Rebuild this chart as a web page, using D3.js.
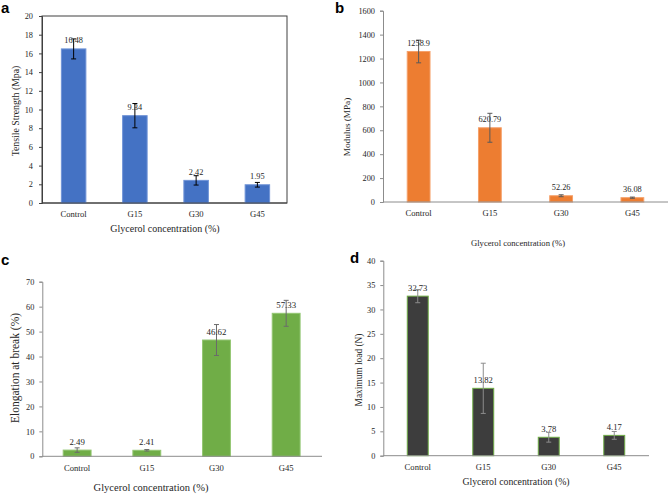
<!DOCTYPE html>
<html>
<head>
<meta charset="utf-8">
<script src="https://cdn.jsdelivr.net/npm/d3@7"></script>
<style>
  html, body { margin: 0; padding: 0; background: #fff; }
  svg { display: block; }
  text { font-family: "Liberation Serif", "Times New Roman", serif; fill: #262626; }
  .plabel { font-family: "Liberation Sans", Arial, sans-serif; font-weight: bold; fill: #000; }
</style>
</head>
<body>
<svg id="chart" width="668" height="495"></svg>
<script>
// ---- data ----
const categories = ["Control", "G15", "G30", "G45"];

const tensileValues = [16.48, 9.34, 2.42, 1.95];
const tensileErrors = [1.07, 1.3, 0.5, 0.25];
const tensileLabels = ["16.48", "9.34", "2.42", "1.95"];
const tensileTicks = [0, 2, 4, 6, 8, 10, 12, 14, 16, 18, 20];

const modulusValues = [1258.9, 620.79, 52.26, 36.08];
const modulusErrors = [95, 121, 8, 5];
const modulusLabels = ["1258.9", "620.79", "52.26", "36.08"];
const modulusTicks = [0, 200, 400, 600, 800, 1000, 1200, 1400, 1600];

const elongationValues = [2.49, 2.41, 46.62, 57.33];
const elongationErrors = [0.9, 0.3, 6.2, 5.2];
const elongationLabels = ["2.49", "2.41", "46.62", "57.33"];
const elongationTicks = [0, 10, 20, 30, 40, 50, 60, 70];

const loadValues = [32.73, 13.82, 3.78, 4.17];
const loadErrors = [1.35, 5.15, 1.0, 0.8];
const loadLabels = ["32.73", "13.82", "3.78", "4.17"];
const loadTicks = [0, 5, 10, 15, 20, 25, 30, 35, 40];

const svg = d3.select("#chart");
const SERIF = '"Liberation Serif", "Times New Roman", serif';

function panel(cfg) {
  const g = svg.append("g");
  const x = d3.scaleBand().domain(categories)
    .range([cfg.bx0, cfg.bx1]).paddingInner(cfg.pad).paddingOuter(cfg.pad / 2);
  const y = d3.scaleLinear().domain([0, cfg.ymax]).range([cfg.y1, cfg.y0]);

  if (cfg.frame) {
    g.append("rect").attr("x", cfg.ax0).attr("y", cfg.y0)
      .attr("width", cfg.ax1 - cfg.ax0).attr("height", cfg.y1 - cfg.y0)
      .attr("fill", "none").attr("stroke", cfg.axisColor).attr("stroke-width", 1);
  }

  const yAxis = d3.axisLeft(y).tickValues(cfg.ticks).tickSize(3).tickPadding(cfg.tickPad)
    .tickFormat(d3.format("d"));
  const ya = g.append("g").attr("transform", `translate(${cfg.ax0},0)`).call(yAxis)
    .attr("font-family", SERIF).attr("font-size", cfg.tickFont);
  ya.select(".domain").attr("stroke", cfg.axisColor);
  ya.selectAll(".tick line").attr("stroke", cfg.axisColor);
  ya.selectAll(".tick text").attr("fill", "#333").style("font-family", SERIF);

  g.selectAll("rect.bar").data(cfg.values).join("rect").attr("class", "bar")
    .attr("x", (d, i) => x(categories[i]))
    .attr("width", x.bandwidth())
    .attr("y", d => y(d))
    .attr("height", d => y(0) - y(d))
    .attr("fill", cfg.color)
    .attr("stroke", cfg.edge).attr("stroke-width", 1);

  g.append("line").attr("x1", cfg.ax0).attr("x2", cfg.ax1)
    .attr("y1", y(0)).attr("y2", y(0))
    .attr("stroke", cfg.axisColor).attr("stroke-width", 1);

  const eg = g.append("g").attr("stroke", cfg.errColor).attr("stroke-width", 1);
  cfg.values.forEach((v, i) => {
    const cx = x(categories[i]) + x.bandwidth() / 2;
    const t = y(v + cfg.errors[i]), b = y(Math.max(0, v - cfg.errors[i]));
    eg.append("line").attr("x1", cx).attr("x2", cx).attr("y1", t).attr("y2", b);
    eg.append("line").attr("x1", cx - 2.5).attr("x2", cx + 2.5).attr("y1", t).attr("y2", t);
    eg.append("line").attr("x1", cx - 2.5).attr("x2", cx + 2.5).attr("y1", b).attr("y2", b);
  });

  g.selectAll("text.val").data(cfg.values).join("text").attr("class", "val")
    .attr("x", (d, i) => x(categories[i]) + x.bandwidth() / 2)
    .attr("y", d => y(d) - 5.5)
    .attr("text-anchor", "middle").attr("font-size", cfg.valFont)
    .text((d, i) => cfg.labels[i]);

  g.selectAll("text.cat").data(categories).join("text").attr("class", "cat")
    .attr("x", d => x(d) + x.bandwidth() / 2)
    .attr("y", cfg.catY)
    .attr("text-anchor", "middle").attr("font-size", cfg.catFont)
    .text(d => d);

  g.append("text").attr("x", cfg.xtX).attr("y", cfg.xtY)
    .attr("text-anchor", "middle").attr("font-size", cfg.xtFont).text(cfg.xTitle);

  g.append("text").attr("transform", `translate(${cfg.ytX},${cfg.ytY}) rotate(-90)`)
    .attr("text-anchor", "middle").attr("font-size", cfg.ytFont).text(cfg.yTitle);

  g.append("text").attr("class", "plabel").attr("x", cfg.plX).attr("y", cfg.plY)
    .attr("font-size", 15).text(cfg.letter);
}

panel({
  letter: "a", plX: 1, plY: 13,
  values: tensileValues, errors: tensileErrors, labels: tensileLabels, ticks: tensileTicks, ymax: 20,
  ax0: 42, ax1: 287, bx0: 43, bx1: 288, y0: 16, y1: 203, pad: 0.6,
  color: "#4472C4", edge: "#6f93d6", errColor: "#000", axisColor: "#404040", frame: true,
  tickFont: 8.3, tickPad: 6, valFont: 8.3, catFont: 8.6, catY: 216.5,
  xTitle: "Glycerol concentration (%)", xtX: 165, xtY: 231.5, xtFont: 10,
  yTitle: "Tensile Strength (Mpa)", ytX: 18.5, ytY: 111, ytFont: 9.8
});

panel({
  letter: "b", plX: 335, plY: 13,
  values: modulusValues, errors: modulusErrors, labels: modulusLabels, ticks: modulusTicks, ymax: 1600,
  ax0: 383, ax1: 668, bx0: 383, bx1: 668, y0: 10.7, y1: 202, pad: 0.68,
  color: "#ED7D31", edge: "#f5a06a", errColor: "#595959", axisColor: "#8c8c8c", frame: false,
  tickFont: 8.3, tickPad: 5, valFont: 8.3, catFont: 8.6, catY: 216,
  xTitle: "Glycerol concentration (%)", xtX: 518, xtY: 246, xtFont: 8.6,
  yTitle: "Modulus (MPa)", ytX: 350, ytY: 127, ytFont: 9.2
});

panel({
  letter: "c", plX: 1, plY: 265,
  values: elongationValues, errors: elongationErrors, labels: elongationLabels, ticks: elongationTicks, ymax: 70,
  ax0: 42.3, ax1: 322, bx0: 42.3, bx1: 321, y0: 281.7, y1: 456.3, pad: 0.6,
  color: "#70AD47", edge: "#93c672", errColor: "#6b6b6b", axisColor: "#8c8c8c", frame: false,
  tickFont: 8.3, tickPad: 5, valFont: 8.8, catFont: 8.6, catY: 471,
  xTitle: "Glycerol concentration (%)", xtX: 151, xtY: 491, xtFont: 10.5,
  yTitle: "Elongation at break (%)", ytX: 18.5, ytY: 368, ytFont: 11.5
});

panel({
  letter: "d", plX: 350, plY: 263,
  values: loadValues, errors: loadErrors, labels: loadLabels, ticks: loadTicks, ymax: 40,
  ax0: 383.3, ax1: 649, bx0: 385, bx1: 647, y0: 260.7, y1: 455.7, pad: 0.68,
  color: "#3d3d3d", edge: "#70AD47", errColor: "#8c8c8c", axisColor: "#8c8c8c", frame: false,
  tickFont: 8.3, tickPad: 5, valFont: 8.6, catFont: 8.6, catY: 470,
  xTitle: "Glycerol concentration (%)", xtX: 516, xtY: 484.5, xtFont: 9.8,
  yTitle: "Maximum load (N)", ytX: 362, ytY: 370, ytFont: 9.4
});
</script>
</body>
</html>
